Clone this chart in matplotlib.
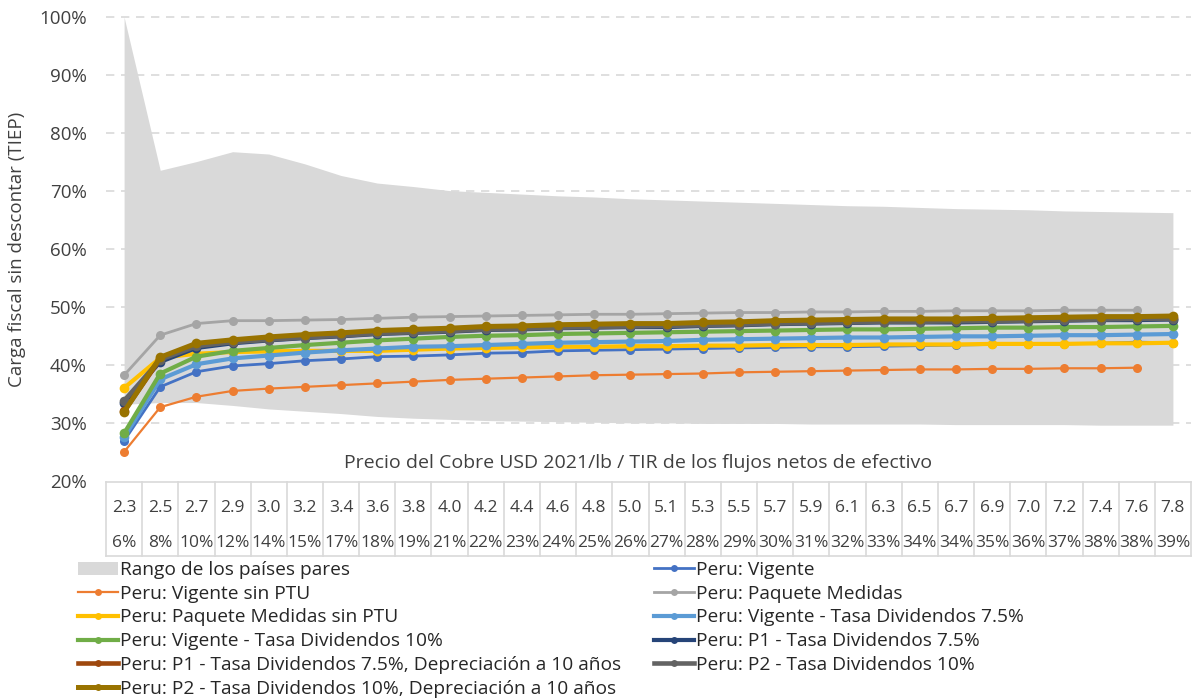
import numpy as np
import matplotlib
matplotlib.use('Agg')
import matplotlib.pyplot as plt
from matplotlib.patches import Patch
from matplotlib.lines import Line2D

plt.rcParams['font.family'] = ['Open Sans', 'DejaVu Sans']

# categories: copper price and IRR shown in the data table under the axis
price = ['2.3', '2.5', '2.7', '2.9', '3.0', '3.2', '3.4', '3.6', '3.8', '4.0',
         '4.2', '4.4', '4.6', '4.8', '5.0', '5.1', '5.3', '5.5', '5.7', '5.9',
         '6.1', '6.3', '6.5', '6.7', '6.9', '7.0', '7.2', '7.4', '7.6', '7.8']
tir = ['6%', '8%', '10%', '12%', '14%', '15%', '17%', '18%', '19%', '21%',
       '22%', '23%', '24%', '25%', '26%', '27%', '28%', '29%', '30%', '31%',
       '32%', '33%', '34%', '34%', '35%', '36%', '37%', '38%', '38%', '39%']

# peer country range (%)
rango_max = [100.0, 73.6, 75.1, 76.8, 76.4, 74.7, 72.7, 71.4, 70.8, 70.1,
             69.8, 69.5, 69.2, 69.0, 68.7, 68.5, 68.3, 68.1, 67.9, 67.7,
             67.5, 67.4, 67.2, 67.0, 66.9, 66.8, 66.6, 66.5, 66.4, 66.3]
rango_min = [33.3, 33.6, 33.6, 33.1, 32.5, 32.1, 31.7, 31.2, 30.9, 30.7,
             30.5, 30.4, 30.3, 30.2, 30.1, 30.1, 30.0, 30.0, 30.0, 29.9,
             29.9, 29.9, 29.9, 29.8, 29.8, 29.8, 29.8, 29.7, 29.7, 29.7]

vigente = [27.0, 36.3, 38.9, 39.9, 40.3, 40.8, 41.1, 41.5, 41.6, 41.8,
           42.1, 42.2, 42.5, 42.6, 42.7, 42.8, 42.9, 43.0, 43.1, 43.2,
           43.2, 43.3, 43.4, 43.5, 43.6, 43.7, 43.7, 43.8, 44.0, 43.9]
vigente_sin_ptu = [25.1, 32.8, 34.6, 35.6, 36.0, 36.3, 36.6, 36.9, 37.2, 37.5,
                   37.7, 37.9, 38.1, 38.3, 38.4, 38.5, 38.6, 38.8, 38.9, 39.0,
                   39.1, 39.2, 39.3, 39.3, 39.4, 39.4, 39.5, 39.5, 39.6, None]
paquete = [38.3, 45.2, 47.2, 47.7, 47.7, 47.8, 47.9, 48.1, 48.3, 48.4,
           48.5, 48.6, 48.7, 48.8, 48.8, 48.9, 49.0, 49.1, 49.1, 49.2,
           49.2, 49.3, 49.3, 49.4, 49.4, 49.4, 49.5, 49.5, 49.5, None]
paquete_sin_ptu = [36.1, 41.3, 42.0, 42.3, 42.4, 42.5, 42.5, 42.5, 42.7, 42.9,
                   43.0, 43.1, 43.2, 43.2, 43.3, 43.3, 43.4, 43.4, 43.5, 43.5,
                   43.5, 43.6, 43.6, 43.6, 43.7, 43.7, 43.7, 43.8, 43.8, 43.9]
vig_div75 = [27.6, 37.6, 40.2, 41.2, 41.7, 42.2, 42.6, 42.9, 43.2, 43.3,
             43.5, 43.7, 43.9, 44.0, 44.1, 44.2, 44.4, 44.5, 44.6, 44.7,
             44.8, 44.8, 44.9, 45.0, 45.0, 45.1, 45.2, 45.2, 45.3, 45.4]
vig_div10 = [28.3, 38.6, 41.5, 42.5, 43.0, 43.5, 43.9, 44.3, 44.6, 44.9,
             45.1, 45.2, 45.4, 45.5, 45.6, 45.7, 45.8, 45.9, 46.0, 46.1,
             46.2, 46.2, 46.3, 46.4, 46.5, 46.5, 46.6, 46.6, 46.7, 46.8]
p1_div75 = [33.6, 40.6, 43.0, 43.8, 44.3, 44.7, 45.0, 45.4, 45.6, 45.8,
            46.1, 46.2, 46.4, 46.5, 46.6, 46.6, 46.8, 46.9, 47.1, 47.2,
            47.3, 47.4, 47.4, 47.4, 47.5, 47.6, 47.7, 47.8, 47.8, 47.9]
p1_div75_dep = [32.1, 41.1, 43.5, 44.1, 44.6, 45.0, 45.3, 45.7, 45.9, 46.1,
                46.4, 46.5, 46.7, 46.8, 46.9, 46.9, 47.1, 47.2, 47.4, 47.5,
                47.6, 47.7, 47.7, 47.7, 47.8, 47.9, 48.0, 48.1, 48.1, 48.2]
p2_div10 = [33.9, 41.0, 43.3, 44.0, 44.4, 44.8, 45.1, 45.5, 45.7, 45.9,
            46.2, 46.3, 46.5, 46.6, 46.7, 46.8, 46.9, 47.0, 47.2, 47.3,
            47.4, 47.5, 47.5, 47.6, 47.6, 47.7, 47.8, 47.9, 48.0, 48.0]
p2_div10_dep = [32.0, 41.4, 43.8, 44.4, 44.9, 45.3, 45.6, 46.0, 46.2, 46.4,
                46.7, 46.8, 47.0, 47.1, 47.2, 47.2, 47.4, 47.5, 47.7, 47.8,
                47.9, 48.0, 48.0, 48.0, 48.1, 48.2, 48.3, 48.4, 48.4, 48.5]

series = [
    ('Peru: Vigente', vigente, '#4472C4', 2.0),
    ('Peru: Vigente sin PTU', vigente_sin_ptu, '#ED7D31', 1.6),
    ('Peru: Paquete Medidas', paquete, '#A5A5A5', 2.0),
    ('Peru: Paquete Medidas sin PTU', paquete_sin_ptu, '#FFC000', 3.0),
    ('Peru: Vigente - Tasa Dividendos 7.5%', vig_div75, '#5B9BD5', 3.0),
    ('Peru: Vigente - Tasa Dividendos 10%', vig_div10, '#70AD47', 3.0),
    ('Peru: P1 - Tasa Dividendos 7.5%', p1_div75, '#264478', 3.0),
    ('Peru: P1 - Tasa Dividendos 7.5%, Depreciación a 10 años', p1_div75_dep, '#9E480E', 3.3),
    ('Peru: P2 - Tasa Dividendos 10%', p2_div10, '#636363', 3.3),
    ('Peru: P2 - Tasa Dividendos 10%, Depreciación a 10 años', p2_div10_dep, '#997300', 3.6),
]

W, H = 1193, 700
fig = plt.figure(figsize=(W / 100, H / 100), dpi=100)
left, right, top, bottom = 106, 1191, 17, 481.5
ax = fig.add_axes([left / W, 1 - bottom / H, (right - left) / W, (bottom - top) / H])

x = np.arange(len(price))
ax.set_xlim(-0.5, len(price) - 0.5)
ax.set_ylim(20, 100)

# dashed gridlines behind the band
for g in range(30, 101, 10):
    ax.axhline(g, color='#D9D9D9', lw=1.2, ls=(0, (5, 4)), zorder=0, clip_on=False)

ax.fill_between(x, rango_min, rango_max, color='#D9D9D9', lw=0, zorder=1)

handles = {}
for label, vals, color, lw in series:
    y = np.array([np.nan if v is None else v for v in vals])
    ms = 6.5 if lw < 2.5 else 7
    ln, = ax.plot(x, y, color=color, lw=lw, marker='o', ms=ms,
                  markeredgewidth=0, zorder=2, solid_capstyle='round')
    handles[label] = ln

ax.set_yticks(range(20, 101, 10))
ax.set_yticklabels(['%d%%' % v for v in range(20, 101, 10)])
ax.tick_params(axis='y', length=0, labelsize=13.5, colors='#404040', pad=14)
ax.set_xticks([])
for s in ax.spines.values():
    s.set_visible(False)

ax.set_ylabel('Carga fiscal sin descontar (TIEP)', fontsize=13.5, color='#404040')
ax.yaxis.set_label_coords(-0.074, 0.5)

fig.text(638 / W, 1 - 463 / H,
         'Precio del Cobre USD 2021/lb / TIR de los flujos netos de efectivo',
         ha='center', va='center', fontsize=14, color='#404040')

# data table under the axis
trans = ax.get_xaxis_transform()
ph = bottom - top
row1 = -(508 - bottom) / ph
row2 = -(543 - bottom) / ph
tbot = -(556 - bottom) / ph
ax.plot([-0.5, len(price) - 0.5], [0, 0], transform=trans, color='#D9D9D9',
        lw=1.2, clip_on=False)
ax.plot([-0.5, len(price) - 0.5], [tbot, tbot], transform=trans, color='#D9D9D9',
        lw=1.2, clip_on=False)
for i in range(len(price) + 1):
    ax.plot([i - 0.5, i - 0.5], [0, tbot], transform=trans, color='#D9D9D9',
            lw=1.2, clip_on=False)
for i in range(len(price)):
    ax.text(i, row1, price[i], transform=trans, ha='center', va='center',
            fontsize=12.5, color='#404040')
    ax.text(i, row2, tir[i], transform=trans, ha='center', va='center',
            fontsize=12.5, color='#404040')

# legend, two columns, row-major like the original
band = Patch(facecolor='#D9D9D9', edgecolor='none', label='Rango de los países pares')
order = ['Peru: Vigente sin PTU', 'Peru: Paquete Medidas sin PTU',
         'Peru: Vigente - Tasa Dividendos 10%',
         'Peru: P1 - Tasa Dividendos 7.5%, Depreciación a 10 años',
         'Peru: P2 - Tasa Dividendos 10%, Depreciación a 10 años',
         'Peru: Vigente', 'Peru: Paquete Medidas',
         'Peru: Vigente - Tasa Dividendos 7.5%',
         'Peru: P1 - Tasa Dividendos 7.5%', 'Peru: P2 - Tasa Dividendos 10%']
hl = [band]
for lab in order:
    ln = handles[lab]
    hl.append(Line2D([], [], color=ln.get_color(), lw=ln.get_linewidth(),
                     marker='o', ms=5, markeredgewidth=0, label=lab))
leg = fig.legend(handles=hl, labels=[h.get_label() for h in hl], ncol=2,
                 loc='upper left', bbox_to_anchor=(78 / W, 1 - 561 / H),
                 frameon=False, fontsize=13.8, handlelength=2.1,
                 handletextpad=0.1, labelspacing=0.3, columnspacing=1.7,
                 borderaxespad=0, borderpad=0)
for t in leg.get_texts():
    t.set_color('#262626')

fig.savefig('out.png', dpi=100)
